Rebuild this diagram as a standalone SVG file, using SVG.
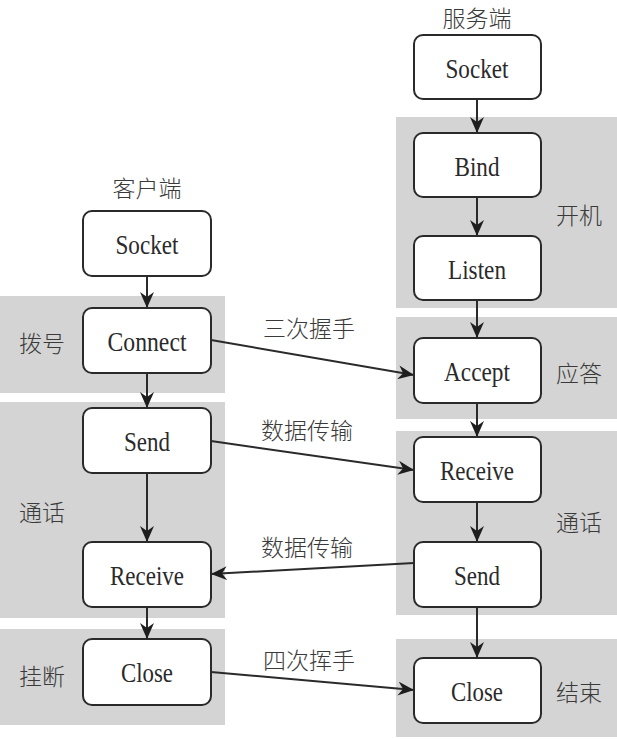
<svg xmlns="http://www.w3.org/2000/svg" width="617" height="739" viewBox="0 0 617 739">
  <style>
    .band { fill: #d4d4d4; }
    .box { fill: #ffffff; stroke: #2a2a2a; stroke-width: 2; }
    .lbl { font-family: "Liberation Serif", "Times New Roman", serif; font-size: 28px; fill: #2a2a2a; text-anchor: middle; }
    .cn { font-family: "Noto Sans CJK SC", "Noto Sans", sans-serif; font-size: 23px; fill: #3a3a3a; font-weight: 300; }
    .cnm { text-anchor: middle; }
    .edge { stroke: #2a2a2a; stroke-width: 2; fill: none; marker-end: url(#arr); }
  </style>
  <defs>
    <marker id="arr" markerUnits="userSpaceOnUse" markerWidth="18" markerHeight="14" refX="16" refY="7" orient="auto">
      <path d="M0,0 L16,7 L0,14 L5,7 Z" fill="#1e1e1e"/>
    </marker>
  </defs>

  <rect width="617" height="739" fill="#ffffff"/>

  <!-- phase bands -->
  <g id="bands">
    <rect class="band" x="0" y="296" width="225" height="97"/>
    <rect class="band" x="0" y="402" width="225" height="216"/>
    <rect class="band" x="0" y="629" width="225" height="96"/>
    <rect class="band" x="396" y="117" width="221" height="191"/>
    <rect class="band" x="396" y="317" width="221" height="102"/>
    <rect class="band" x="396" y="431" width="221" height="184"/>
    <rect class="band" x="396" y="639" width="221" height="98"/>
  </g>

  <!-- phase labels and titles -->
  <g id="phase-labels">
    <text class="cn" x="19" y="352">拨号</text>
    <text class="cn" x="19" y="521">通话</text>
    <text class="cn" x="19" y="685">挂断</text>
    <text class="cn" x="556" y="224">开机</text>
    <text class="cn" x="556" y="382">应答</text>
    <text class="cn" x="556" y="531">通话</text>
    <text class="cn" x="556" y="701">结束</text>
    <text class="cn cnm" x="147" y="197">客户端</text>
    <text class="cn cnm" x="477" y="27">服务端</text>
  </g>

  <!-- connectors -->
  <g id="connectors">
    <line class="edge" x1="147" y1="276" x2="147" y2="308"/>
    <line class="edge" x1="147" y1="373" x2="147" y2="408"/>
    <line class="edge" x1="147" y1="473" x2="147" y2="542"/>
    <line class="edge" x1="147" y1="607" x2="147" y2="639"/>
    <line class="edge" x1="477" y1="99" x2="477" y2="133"/>
    <line class="edge" x1="477" y1="197" x2="477" y2="236"/>
    <line class="edge" x1="477" y1="300" x2="477" y2="338"/>
    <line class="edge" x1="477" y1="403" x2="477" y2="437"/>
    <line class="edge" x1="477" y1="502" x2="477" y2="542"/>
    <line class="edge" x1="477" y1="607" x2="477" y2="658"/>
    <line class="edge" x1="211" y1="340" x2="414" y2="375"/>
    <line class="edge" x1="211" y1="441" x2="414" y2="470"/>
    <line class="edge" x1="414" y1="563" x2="211" y2="574"/>
    <line class="edge" x1="211" y1="672" x2="414" y2="690"/>
    <text class="cn" x="263" y="337">三次握手</text>
    <text class="cn" x="261" y="439">数据传输</text>
    <text class="cn" x="261" y="556">数据传输</text>
    <text class="cn" x="263" y="669">四次挥手</text>
  </g>

  <!-- client nodes -->
  <g id="c-socket">
    <rect class="box" x="83" y="211" width="128" height="65" rx="9"/>
    <text class="lbl" x="147" y="254" textLength="63" lengthAdjust="spacingAndGlyphs">Socket</text>
  </g>
  <g id="c-connect">
    <rect class="box" x="83" y="308" width="128" height="65" rx="9"/>
    <text class="lbl" x="147" y="351" textLength="79" lengthAdjust="spacingAndGlyphs">Connect</text>
  </g>
  <g id="c-send">
    <rect class="box" x="83" y="408" width="128" height="65" rx="9"/>
    <text class="lbl" x="147" y="451" textLength="46" lengthAdjust="spacingAndGlyphs">Send</text>
  </g>
  <g id="c-receive">
    <rect class="box" x="83" y="542" width="128" height="65" rx="9"/>
    <text class="lbl" x="147" y="585" textLength="74" lengthAdjust="spacingAndGlyphs">Receive</text>
  </g>
  <g id="c-close">
    <rect class="box" x="83" y="639" width="128" height="66" rx="9"/>
    <text class="lbl" x="147" y="682" textLength="52" lengthAdjust="spacingAndGlyphs">Close</text>
  </g>

  <!-- server nodes -->
  <g id="s-socket">
    <rect class="box" x="414" y="35" width="127" height="64" rx="9"/>
    <text class="lbl" x="477" y="78" textLength="63" lengthAdjust="spacingAndGlyphs">Socket</text>
  </g>
  <g id="s-bind">
    <rect class="box" x="414" y="133" width="127" height="64" rx="9"/>
    <text class="lbl" x="477" y="176" textLength="45" lengthAdjust="spacingAndGlyphs">Bind</text>
  </g>
  <g id="s-listen">
    <rect class="box" x="414" y="236" width="127" height="64" rx="9"/>
    <text class="lbl" x="477" y="279" textLength="58" lengthAdjust="spacingAndGlyphs">Listen</text>
  </g>
  <g id="s-accept">
    <rect class="box" x="414" y="338" width="127" height="65" rx="9"/>
    <text class="lbl" x="477" y="381" textLength="66" lengthAdjust="spacingAndGlyphs">Accept</text>
  </g>
  <g id="s-receive">
    <rect class="box" x="414" y="437" width="127" height="65" rx="9"/>
    <text class="lbl" x="477" y="480" textLength="74" lengthAdjust="spacingAndGlyphs">Receive</text>
  </g>
  <g id="s-send">
    <rect class="box" x="414" y="542" width="127" height="65" rx="9"/>
    <text class="lbl" x="477" y="585" textLength="46" lengthAdjust="spacingAndGlyphs">Send</text>
  </g>
  <g id="s-close">
    <rect class="box" x="414" y="658" width="127" height="65" rx="9"/>
    <text class="lbl" x="477" y="701" textLength="52" lengthAdjust="spacingAndGlyphs">Close</text>
  </g>
</svg>
